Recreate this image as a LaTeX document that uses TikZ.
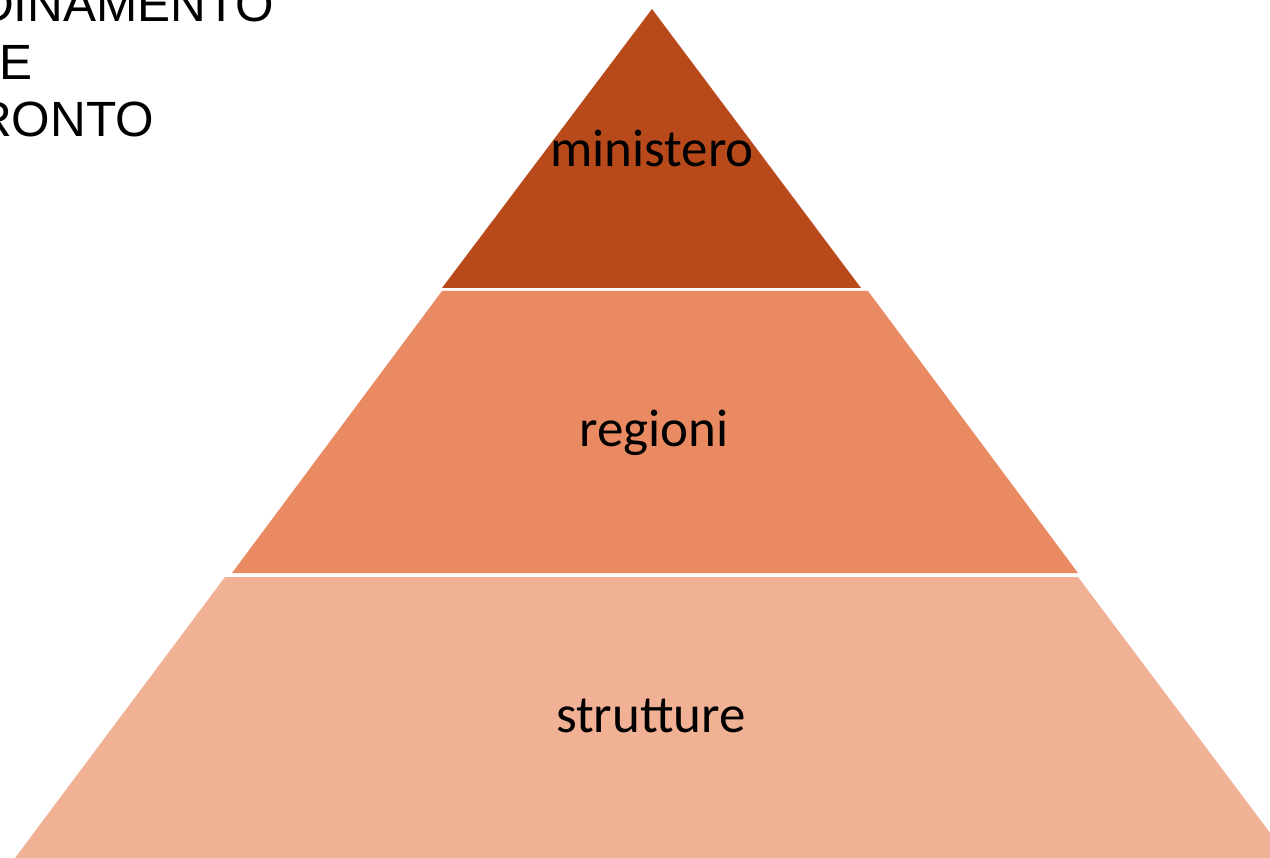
\documentclass[tikz,border=0pt]{standalone}
\usepackage{fontspec}
\setmainfont{Carlito}
\newfontfamily\arialfont{Liberation Sans}
\usepackage{tikz}

\definecolor{topcol}{HTML}{B7491A}
\definecolor{midcol}{HTML}{E98A62}
\definecolor{lowcol}{HTML}{F1B195}

\begin{document}
\begin{tikzpicture}[x=1pt,y=-1pt,
        every node/.style={inner sep=0pt},
        layer/.style={font=\fontsize{53}{63}\selectfont, anchor=base},
        side/.style={font=\arialfont\fontsize{49.5}{57}\selectfont, anchor=base west}]

        \useasboundingbox (0,0) rectangle (1270,858);
        \clip (0,0) rectangle (1270,858);

        % pyramid levels
        \fill[topcol] (652,9) -- (861,288) -- (442,288) -- cycle;
        \fill[midcol] (442,291) -- (868,291) -- (1078,573) -- (232,573) -- cycle;
        \fill[lowcol] (225,577) -- (1078,577) -- (1289,858) -- (15,858) -- cycle;

        \node at (652,167) [layer] (MIN) {ministero};
        \node at (654,447) [layer] (REG) {regioni};
        \node at (651,732) [layer] (STR) {strutture};

        % text cut at the edge
        \node at (-22,22) [side] (T1) {DINAMENTO};
        \node at (-1,80) [side] (T2) {E};
        \node at (-24,137) [side] (T3) {RONTO};

      \end{tikzpicture}
\end{document}
